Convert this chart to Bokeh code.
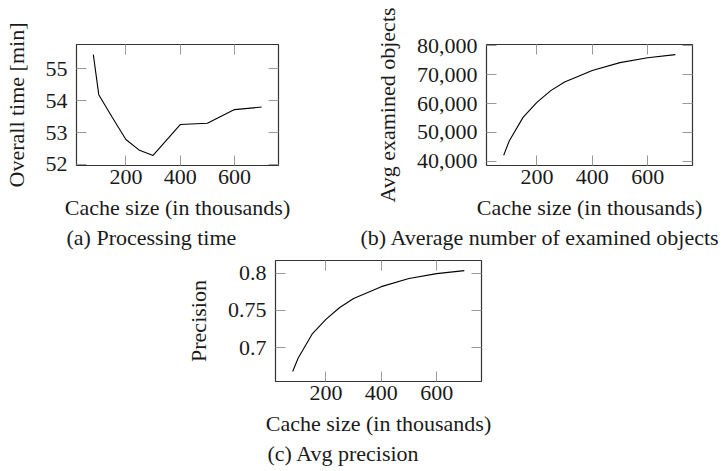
from bokeh.plotting import figure
from bokeh.layouts import column, row
from bokeh.models import (FixedTicker, LinearAxis, Title, NumeralTickFormatter, Range1d,
                          CustomJSTickFormatter)
from bokeh.embed import file_html
from bokeh.resources import INLINE

# Cache size in thousands of entries
cache_size = [80, 100, 150, 200, 250, 300, 400, 500, 600, 700]
# (a) overall processing time in minutes
overall_time = [55.45, 54.19, 53.47, 52.78, 52.44, 52.28, 53.25, 53.29, 53.72, 53.80]
# (b) average number of examined objects
examined = [42000, 47000, 55200, 60400, 64500, 67500, 71500, 74200, 75900, 77000]
# (c) average precision
precision = [0.668, 0.686, 0.718, 0.738, 0.754, 0.766, 0.782, 0.793, 0.7995, 0.8036]

x_ticks = [200, 400, 600]
time_ticks = [52, 53, 54, 55]
examined_ticks = [40000, 50000, 60000, 70000, 80000]
precision_ticks = [0.7, 0.75, 0.8]

FONT = "Liberation Serif"
TEXT = "#1a1a1a"
TICK = "#9a9a9a"


def padded(vals, frac=0.1):
    lo, hi = min(vals), max(vals)
    pad = (hi - lo) * frac
    return Range1d(lo - pad, hi + pad)


def style_ticks(ax):
    ax.axis_line_color = None
    ax.major_tick_in = 10
    ax.major_tick_out = 0
    ax.major_tick_line_color = TICK
    ax.major_tick_line_width = 1
    ax.minor_tick_line_color = None


def panel(width, height, borders, yvals, yticks, ylabel, yfmt, caption, cap_offset, cap_standoff):
    left, right, top, bottom = borders
    p = figure(width=width, height=height, output_backend="svg", toolbar_location=None,
               x_range=padded(cache_size), y_range=padded(yvals),
               min_border_left=left, min_border_right=right,
               min_border_top=top, min_border_bottom=bottom)
    p.grid.visible = False
    p.outline_line_color = "#333333"
    p.outline_line_width = 1.2
    p.background_fill_color = None
    p.border_fill_color = None

    p.line(cache_size, yvals, line_color="black", line_width=1.1)

    xa = p.below[0]
    ya = p.left[0]
    xa.ticker = FixedTicker(ticks=x_ticks)
    ya.ticker = FixedTicker(ticks=yticks)
    if yfmt is not None:
        ya.formatter = yfmt
    xa.axis_label = "Cache size (in thousands)"
    ya.axis_label = ylabel
    for ax in (xa, ya):
        style_ticks(ax)
        ax.major_label_text_font = FONT
        ax.major_label_text_font_size = "22px"
        ax.major_label_text_color = TEXT
        ax.axis_label_text_font = FONT
        ax.axis_label_text_color = TEXT
        ax.axis_label_text_font_style = "normal"
        ax.axis_label_text_font_size = "22px"
    xa.major_label_standoff = 4
    xa.axis_label_standoff = 8
    ya.major_label_standoff = 9
    ya.axis_label_standoff = 14

    # mirrored tick marks on the top and right edges of the box
    blank = CustomJSTickFormatter(code="return ''")
    top_axis = LinearAxis(ticker=FixedTicker(ticks=x_ticks), formatter=blank,
                          major_label_standoff=0, major_label_text_font_size="1px")
    right_axis = LinearAxis(ticker=FixedTicker(ticks=yticks), formatter=blank,
                            major_label_standoff=0, major_label_text_font_size="1px")
    style_ticks(top_axis)
    style_ticks(right_axis)
    p.add_layout(top_axis, "above")
    p.add_layout(right_axis, "right")

    # sub-figure caption under the x-axis label
    p.add_layout(Title(text=caption, align="left", offset=cap_offset, standoff=cap_standoff,
                       text_font=FONT, text_font_size="22px", text_color=TEXT,
                       text_font_style="normal"), "below")
    return p


pa = panel(340, 252, (72, 62, 44, 87), overall_time, time_ticks,
           "Overall time [min]", None, "(a) Processing time", -10, 1)
pb = panel(383, 252, (146, 31, 44, 87), examined, examined_ticks,
           "Avg examined objects", NumeralTickFormatter(format="0,0"),
           "(b) Average number of examined objects", -126, 1)
pc = panel(723, 219, (275, 242, 8, 90), precision, precision_ticks,
           "Precision", NumeralTickFormatter(format="0.[00]"),
           "(c) Avg precision", -8, 1)

layout = column(row(pa, pb, spacing=0), pc, spacing=0)
open("out.html", "w").write(file_html(layout, INLINE))
